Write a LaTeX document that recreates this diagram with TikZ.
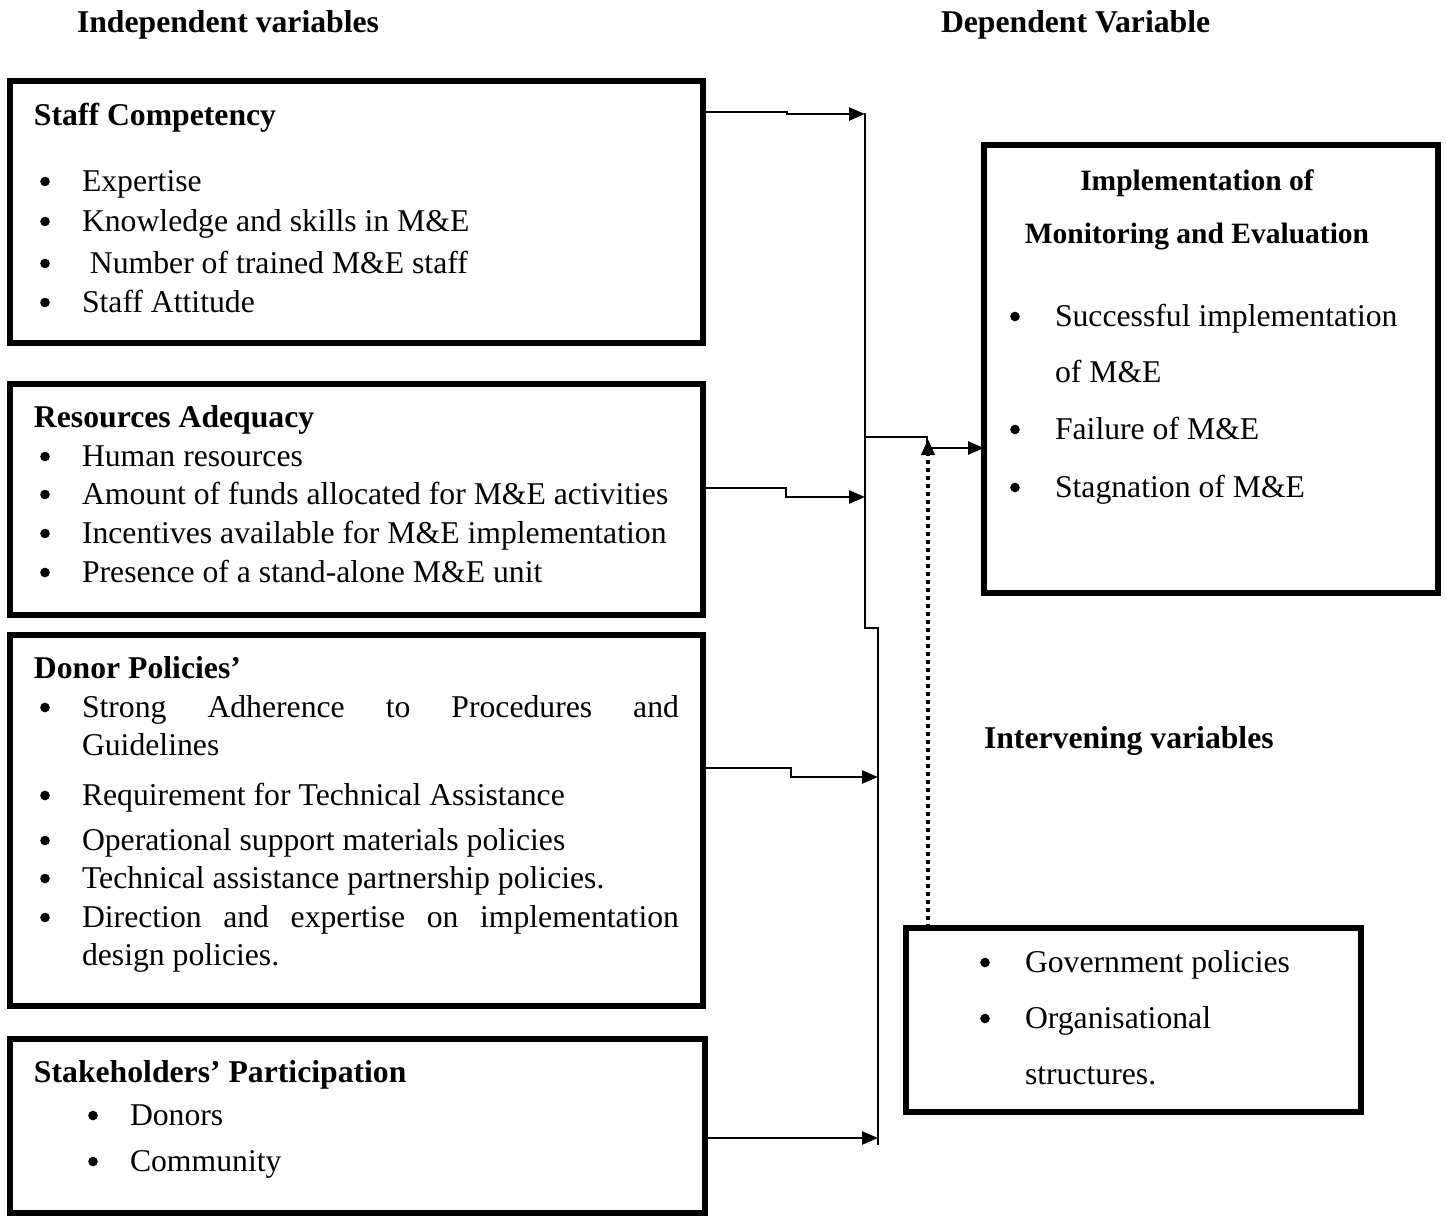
\documentclass[tikz,border=0pt]{standalone}
\usepackage{fontspec}
\setmainfont{Liberation Serif}
\usetikzlibrary{arrows.meta}
\newcommand\fs{\fontsize{31.7}{40}\selectfont}
\newcommand\bu[2][37]{\fill ([shift={(-#1,-9.5)}]#2.base west) circle (4.8pt);}
\begin{document}
\begin{tikzpicture}[x=1pt,y=-1pt,
  boxst/.style={draw, line width=6pt, anchor=north west, inner sep=0pt, outer sep=0pt},
  txt/.style={anchor=base west, inner sep=0pt, outer sep=0pt, font=\fs},
  btxt/.style={txt, font=\fs\bfseries},
  ttl/.style={anchor=base, inner sep=0pt, outer sep=0pt, font=\fontsize{29.5}{36}\selectfont\bfseries},
  conn/.style={line width=2.5pt},
  arr/.style={conn, -{Triangle[length=16pt,width=13pt]}}]
\useasboundingbox (0,0) rectangle (1446,1216);
\fill[white] (0,0) rectangle (1446,1216);

% headers
\node[btxt] (hind) at (77,32) {Independent variables};
\node[btxt] (hdep) at (941,32) {Dependent Variable};

% boxes
\node[boxst, minimum width=693pt, minimum height=262pt] (b1) at (10,81) {};
\node[boxst, minimum width=693pt, minimum height=231pt] (b2) at (10,384) {};
\node[boxst, minimum width=693pt, minimum height=371pt] (b3) at (10,635) {};
\node[boxst, minimum width=695pt, minimum height=174pt] (b4) at (10,1039) {};
\node[boxst, minimum width=454pt, minimum height=448pt] (dep) at (984,145) {};
\node[boxst, minimum width=455pt, minimum height=184pt] (int) at (906,928) {};

% box 1
\node[btxt] (t1) at (34,125) {Staff Competency};
\node[txt] (t1a) at (82,191) {Expertise};
\node[txt] (t1b) at (82,231) {Knowledge and skills in M\&E};
\node[txt] (t1c) at (82,273) {\ Number of trained M\&E staff};
\node[txt] (t1d) at (82,312) {Staff Attitude};
\bu{t1a}\bu{t1b}\bu{t1c}\bu{t1d}

% box 2
\node[btxt] (t2) at (34,427) {Resources Adequacy};
\node[txt] (t2a) at (82,466) {Human resources};
\node[txt] (t2b) at (82,504) {Amount of funds allocated for M\&E activities};
\node[txt] (t2c) at (82,543) {Incentives available for M\&E implementation};
\node[txt] (t2d) at (82,582) {Presence of a stand-alone M\&E unit};
\bu{t2a}\bu{t2b}\bu{t2c}\bu{t2d}

% box 3
\node[btxt] (t3) at (34,678) {Donor Policies’};
\node[txt] (t3a) at (82,717) {\makebox[597pt][s]{Strong\hfill Adherence\hfill to\hfill Procedures\hfill and}};
\node[txt] (t3b) at (82,755) {Guidelines};
\node[txt] (t3c) at (82,805) {Requirement for Technical Assistance};
\node[txt] (t3d) at (82,850) {Operational support materials policies};
\node[txt] (t3e) at (82,888) {Technical assistance partnership policies.};
\node[txt] (t3f) at (82,927) {\makebox[597pt][s]{Direction\hfill and\hfill expertise\hfill on\hfill implementation}};
\node[txt] (t3g) at (82,965) {design policies.};
\bu{t3a}\bu{t3c}\bu{t3d}\bu{t3e}\bu{t3f}

% box 4
\node[btxt] (t4) at (34,1082) {Stakeholders’ Participation};
\node[txt] (t4a) at (130,1125) {Donors};
\node[txt] (t4b) at (130,1171) {Community};
\bu{t4a}\bu{t4b}

% dependent
\node[ttl] (d1) at (1197,190) {Implementation of};
\node[ttl] (d2) at (1197,243) {Monitoring and Evaluation};
\node[txt] (d3) at (1055,326) {Successful implementation};
\node[txt] (d4) at (1055,382) {of M\&E};
\node[txt] (d5) at (1055,439) {Failure of M\&E};
\node[txt] (d6) at (1055,497) {Stagnation of M\&E};
\bu[40]{d3}\bu[40]{d5}\bu[40]{d6}

% intervening
\node[btxt] (iv) at (984,748) {Intervening variables};
\node[txt] (i1) at (1025,972) {Government policies};
\node[txt] (i2) at (1025,1028) {Organisational};
\node[txt] (i3) at (1025,1084) {structures.};
\bu[40]{i1}\bu[40]{i2}

% bus coordinates
\coordinate (bt) at (865,113);
\coordinate (bm1) at (865,628);
\coordinate (bm2) at (878,628);
\coordinate (bb) at (878,1145);
\coordinate (j1) at (865,114);
\coordinate (j2) at (865,497);
\coordinate (j3) at (878,777);
\coordinate (j4) at (878,1138);
\coordinate (jo) at (865,437);
\coordinate (jup) at (928,439);

\draw[conn] (bt) -- (bm1) -- (bm2) -- (bb);
\draw[arr] (b1.north east) ++(0,31) -- (787,112) -- (787,114) -- (j1);
\draw[arr] (b2.north east) ++(0,104) -- (786,488) -- (786,497) -- (j2);
\draw[arr] (b3.north east) ++(0,133) -- (791,768) -- (791,777) -- (j3);
\draw[arr] (b4.north east) ++(0,99) -- (j4);
\draw[conn] (jo) -- (927,437) -- (927,448);
\draw[arr] (927,448) -- (dep.west |- 0,448);
\draw[line width=4pt, dash pattern=on 4pt off 4pt, -{Triangle[length=16pt,width=13pt]}] (int.north -| jup) -- (jup);
\end{tikzpicture}
\end{document}
